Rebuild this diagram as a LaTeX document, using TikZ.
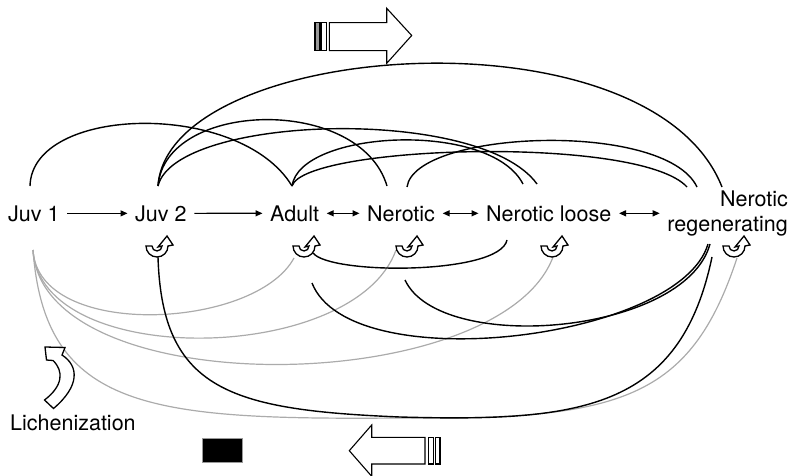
\documentclass[tikz,border=0pt]{standalone}
\usepackage{fontspec}
\setmainfont{TeX Gyre Heros}
\usetikzlibrary{arrows.meta}
\begin{document}
\begin{tikzpicture}[x=1pt,y=-1pt,
  lbl/.style={font=\fontsize{21.5}{25}\selectfont, inner sep=0pt},
  tip/.tip={Triangle[length=7pt,width=6pt]},
  link/.style={line width=1.2pt, -tip, shorten <=7.5pt, shorten >=7.5pt},
  both/.style={line width=1.2pt, tip-tip, shorten <=7.5pt, shorten >=7.5pt},
  trans/.style={line width=1.4pt, black},
  lich/.style={line width=1.2pt, black!33},
  hollow/.style={draw=black, line width=1.1pt, fill=white, line join=miter},
  selfloop/.pic={
    \draw[hollow, line width=1.3pt]
      (-11,0) .. controls (-11,6.1) and (-6.1,11) .. (0,11)
              .. controls (6.1,11) and (11,6.1) .. (11,0)
      -- (16,-1) -- (10,-10) -- (1,1) -- (5,0)
      .. controls (5,2.8) and (2.8,5) .. (0,5)
      .. controls (-2.8,5) and (-5,2.8) .. (-5,0) -- cycle;
  }]
\useasboundingbox (0,0) rectangle (792,476);

% states
\node[lbl, anchor=base west] (juv1)   at (8,221)   {Juv 1};
\node[lbl, anchor=base west] (juv2)   at (135,221) {Juv 2};
\node[lbl, anchor=base west] (adult)  at (270,221) {Adult};
\node[lbl, anchor=base west] (ner)    at (367,221) {Nerotic};
\node[lbl, anchor=base west] (nloose) at (486,221) {Nerotic loose};
\node[lbl, anchor=south east, align=right] (nreg) at (788,236.5) {Nerotic\\regenerating};
\node[lbl, anchor=base west] (lichen) at (10,430)  {Lichenization};

% straight transitions along the row
\draw[link] (juv1.east) -- (juv2.west);
\draw[link] (juv2.east) -- (adult.west);
\draw[both] (adult.east) -- (ner.west);
\draw[both] (ner.east) -- (nloose.west);
\draw[both] (nloose.east) -- (nloose.east -| nreg.west);

% attachment points above the states
\coordinate (j1-up) at (30,186);
\coordinate (j2-up) at (158,186);
\coordinate (ad-up) at (292,186);
\coordinate (ne-in) at (387,186);
\coordinate (ne-up) at (407,187);
\coordinate (nl-a)  at (523,184);
\coordinate (nl-b)  at (537,184);
\coordinate (nr-a)  at (687,187);
\coordinate (nr-b)  at (697,187);
\coordinate (nr-c)  at (722,187);

% attachment points below the states
\coordinate (j1-dn) at (33,250);
\coordinate (j2-dn) at (158,257);
\coordinate (ad-lo) at (294,258);
\coordinate (ad-rt) at (313,253);
\coordinate (ad-dn) at (312,283);
\coordinate (ne-lo) at (396,250);
\coordinate (ne-dn) at (405,280);
\coordinate (nl-dn) at (507,240);
\coordinate (nl-lo) at (553,257);
\coordinate (nr-dn) at (708,244);
\coordinate (nr-dm) at (710,244);
\coordinate (nr-dl) at (712,257);
\coordinate (nr-lo) at (737,258);

% lichenization transitions (grey)
\draw[lich] (j1-dn) .. controls (38,340) and (255,330) .. (ad-lo);
\draw[lich] (j1-dn) .. controls (40,370) and (355,365) .. (ne-lo);
\draw[lich] (j1-dn) .. controls (42,405) and (500,398) .. (nl-lo);
\draw[lich] (j1-dn) .. controls (45,410) and (150,420) .. (400,418)
                    .. controls (620,420) and (690,400) .. (nr-lo);

% transitions arching over the row
\draw[trans] (j1-up) .. controls (32,105) and (240,100) .. (ad-up);
\draw[trans] (j2-up) .. controls (168,40) and (650,5) .. (nr-c);
\draw[trans] (j2-up) .. controls (165,100) and (360,95) .. (ne-in);
\draw[trans] (j2-up) .. controls (175,115) and (480,105) .. (nl-b);
\draw[trans] (ad-up) .. controls (300,130) and (490,120) .. (nl-a);
\draw[trans] (ad-up) .. controls (305,145) and (640,135) .. (nr-a);
\draw[trans] (ne-up) .. controls (415,130) and (665,120) .. (nr-b);

% transitions passing below the row
\draw[trans] (j2-dn) .. controls (162,390) and (230,410) .. (400,417)
                     .. controls (580,422) and (680,410) .. (nr-dl);
\draw[trans] (ad-rt) .. controls (330,275) and (500,275) .. (nl-dn);
\draw[trans] (ad-dn) .. controls (350,380) and (680,340) .. (nr-dn);
\draw[trans] (ne-dn) .. controls (440,355) and (685,335) .. (nr-dm);

% persistence symbols
\pic at (157,246) {selfloop};
\pic at (304,246) {selfloop};
\pic at (407,246) {selfloop};
\pic at (552,246) {selfloop};
\pic at (734,246) {selfloop};

% forward direction arrow
\draw[hollow, fill=black!40] (315,22.7) rectangle (319.3,50.7);
\draw[hollow] (321,22.7) rectangle (326.7,50.7);
\draw[hollow] (329.3,22.7) -- (386.7,22.7) -- (386.7,8.3) -- (411.7,35.5)
  -- (386.7,63.3) -- (386.7,50.7) -- (329.3,50.7) -- cycle;

% backward direction arrow
\draw[hollow] (428.3,437.3) rectangle (433.3,464);
\draw[hollow] (435.7,437.3) rectangle (440,464);
\draw[hollow] (425,437.3) -- (371.7,437.3) -- (371.7,425) -- (349.3,450.7)
  -- (371.7,476.3) -- (371.7,464) -- (425,464) -- cycle;

% lichenization arrow
\draw[hollow, line width=1.3pt] (44.5,400) -- (53.5,408.5) .. controls (80,386) and (79,366) .. (62,355)
  -- (65,347.5) -- (45,347) -- (46.5,360) -- (53,360.5)
  .. controls (64,371) and (63,386) .. (44.5,400) -- cycle;

% scale block
\draw[fill=black, draw=black!40, line width=0.5pt] (202,438) rectangle (242,462);
\end{tikzpicture}
\end{document}
